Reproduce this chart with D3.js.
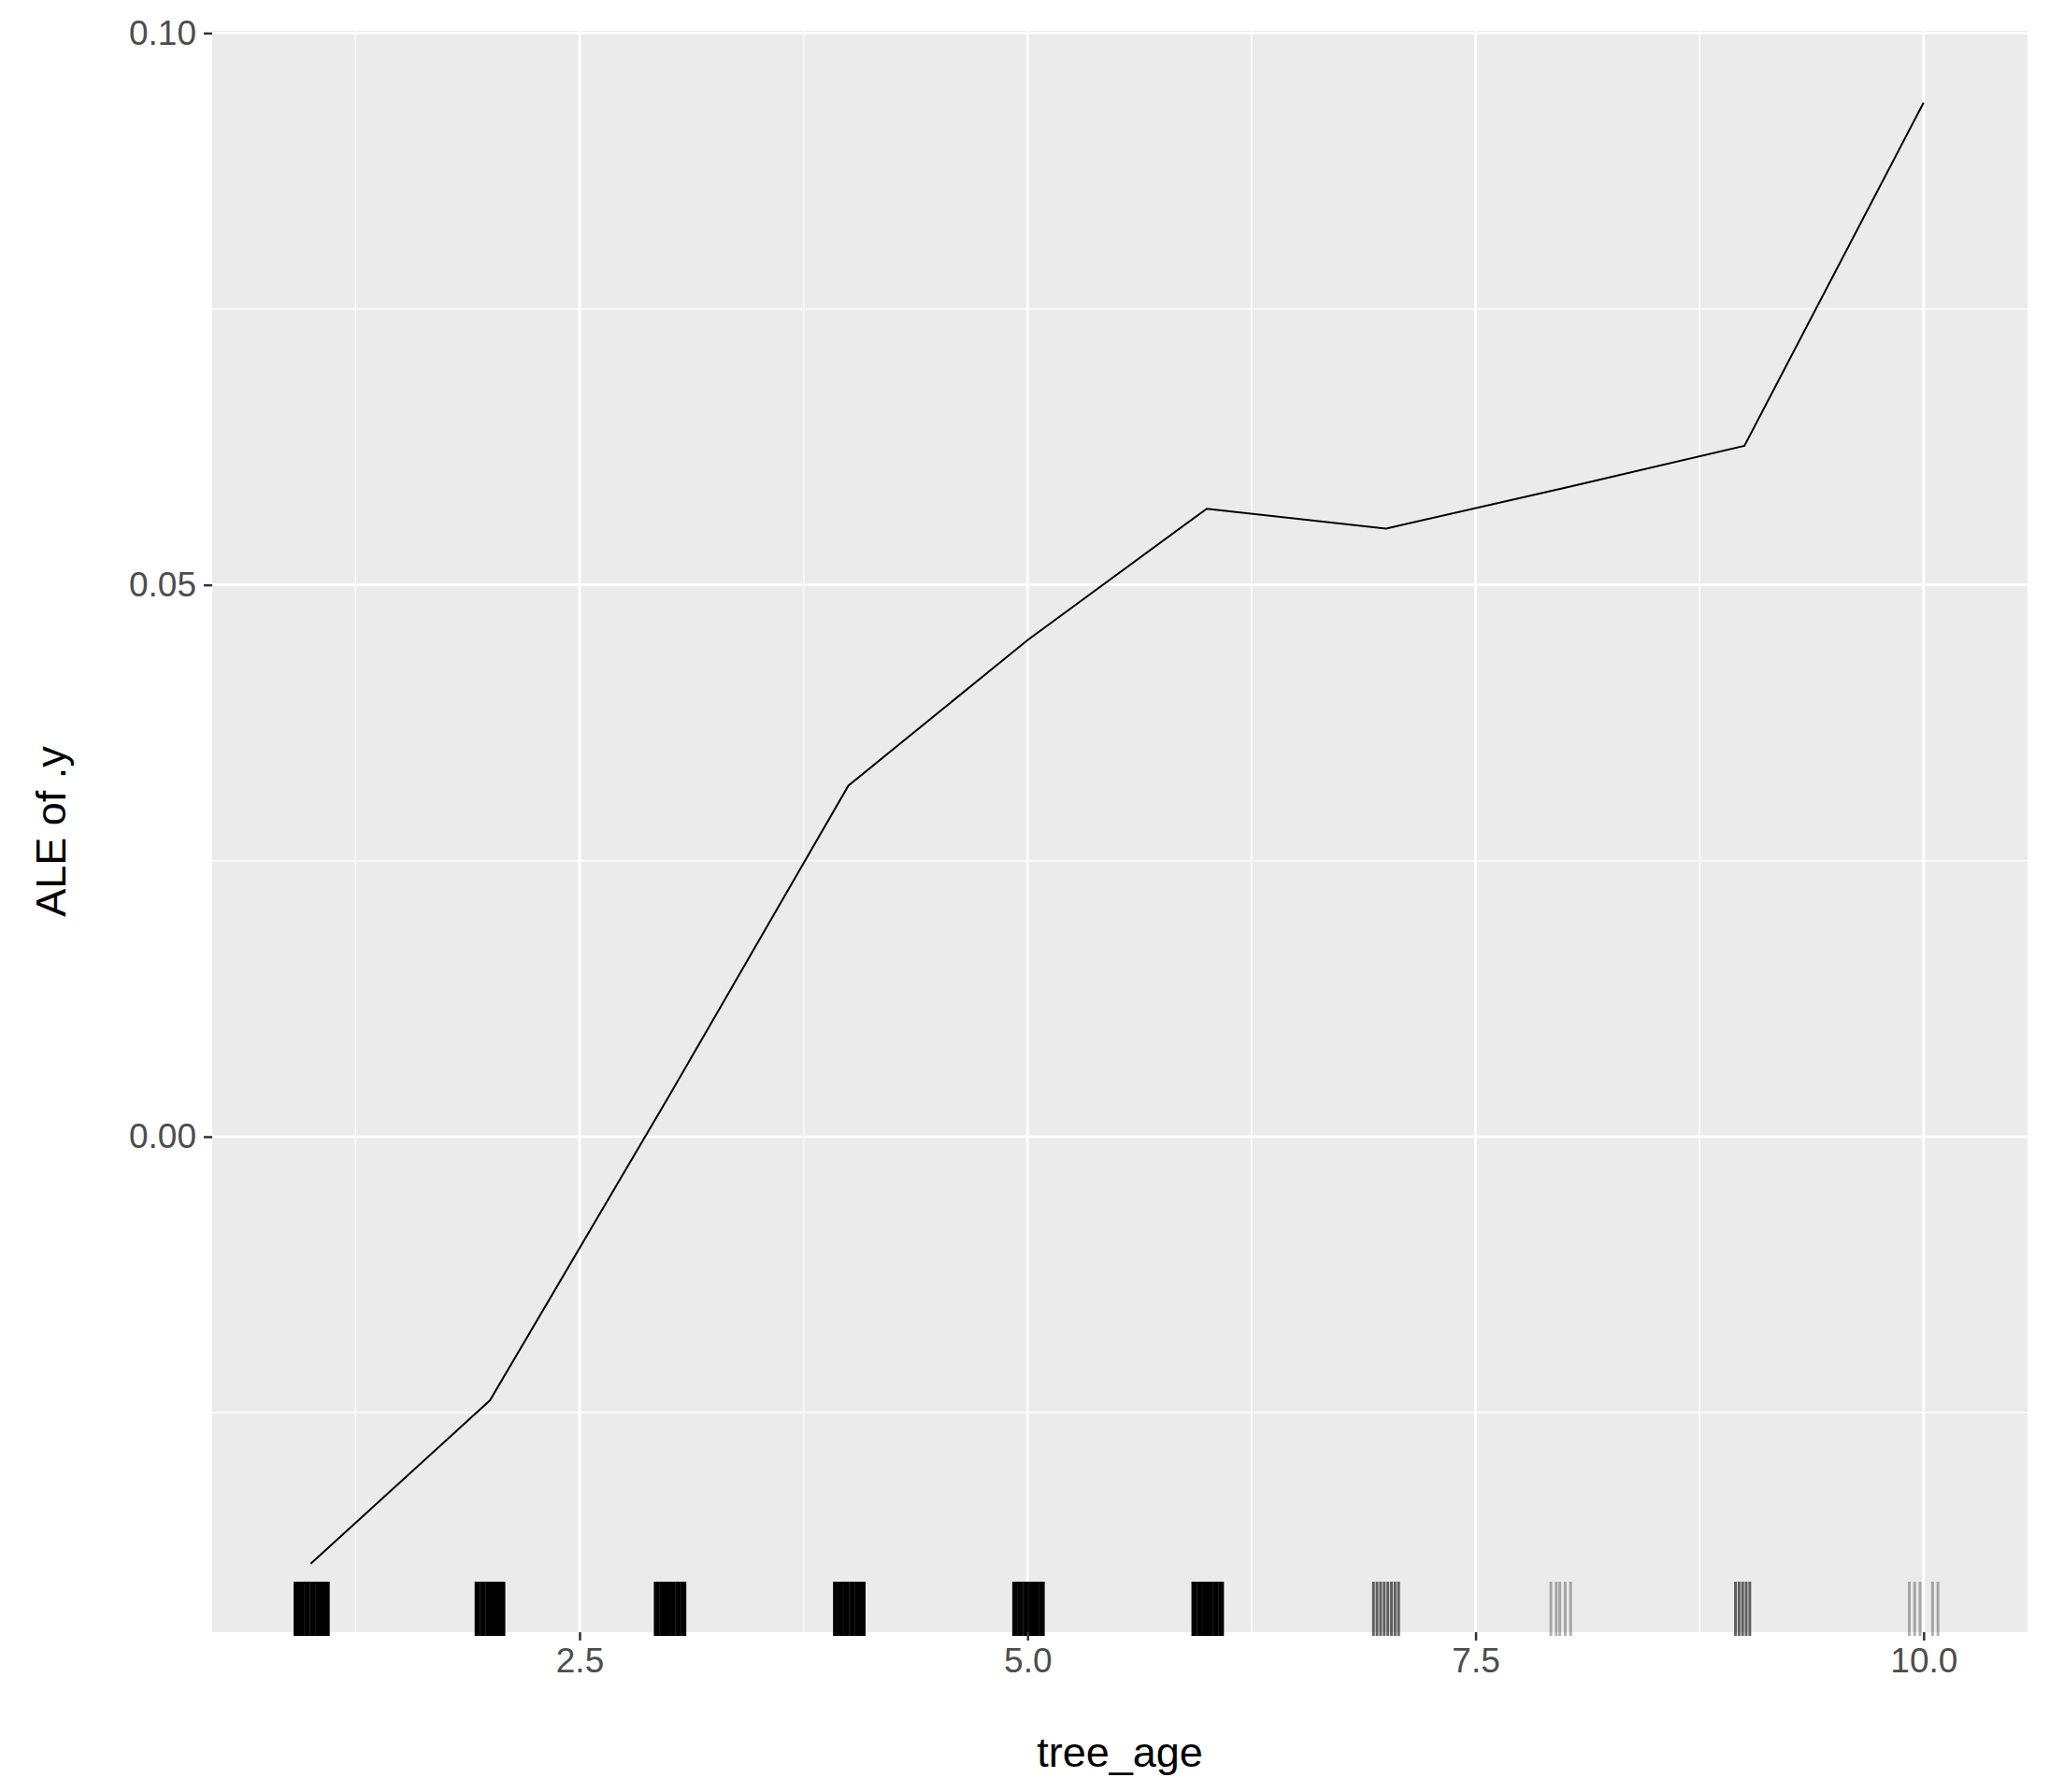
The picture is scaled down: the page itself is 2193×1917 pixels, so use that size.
<!DOCTYPE html>
<html><head><meta charset="utf-8">
<script src="https://cdn.jsdelivr.net/npm/d3@7"></script>
<style>body{margin:0;background:#fff}svg{display:block}</style>
</head><body>
<script>
const treeAge = [1,2,3,4,5,6,7,8,9,10];
const aleValues = [-0.0387,-0.0239,0.0037,0.0318,0.0450,0.0569,0.0551,0.0588,0.0626,0.0937];
const xTicks = [2.5,5.0,7.5,10.0];
const yTicks = [0.00,0.05,0.10];
const rugDense = [0.92,0.95,0.98,1.01,1.04,1.07,1.09, 1.93,1.96,1.99,2.02,2.05,2.07, 2.93,2.96,2.99,3.02,3.05,3.08, 3.93,3.96,3.99,4.02,4.05,4.08, 4.93,4.96,4.99,5.02,5.05,5.08, 5.93,5.96,5.99,6.02,6.05,6.08];
const rugMid = [6.93,6.95,6.97,6.99,7.01,7.03,7.05,7.07, 8.95,8.97,8.99,9.01,9.03];
const rugLight = [7.92,7.95,7.97,8.0,8.03, 9.92,9.95,9.98,10.05,10.08];

const W=2193,H=1917;
const L=227,R=2169,T=33,B=1746;
const svg=d3.select("body").append("svg").attr("width",W).attr("height",H);
const x=d3.scaleLinear().domain([0.45,10.58]).range([L,R]);
const y=d3.scaleLinear().domain([-0.0449,0.1002]).range([B,T]);
svg.append("rect").attr("x",L).attr("y",T).attr("width",R-L).attr("height",B-T).attr("fill","#ebebeb");
const g=svg.append("g");
[1.25,3.75,6.25,8.75].forEach(v=>g.append("line").attr("x1",x(v)).attr("x2",x(v)).attr("y1",T).attr("y2",B).attr("stroke","#fff").attr("stroke-width",1.4));
[-0.025,0.025,0.075].forEach(v=>g.append("line").attr("y1",y(v)).attr("y2",y(v)).attr("x1",L).attr("x2",R).attr("stroke","#fff").attr("stroke-width",1.4));
xTicks.forEach(v=>g.append("line").attr("x1",x(v)).attr("x2",x(v)).attr("y1",T).attr("y2",B).attr("stroke","#fff").attr("stroke-width",2.8));
yTicks.forEach(v=>g.append("line").attr("y1",y(v)).attr("y2",y(v)).attr("x1",L).attr("x2",R).attr("stroke","#fff").attr("stroke-width",2.8));

const rugTop=1692,rugBot=1750;
function rug(arr,op,w){g.selectAll(null).data(arr).enter().append("line")
 .attr("x1",d=>x(d)).attr("x2",d=>x(d)).attr("y1",rugTop).attr("y2",rugBot)
 .attr("stroke","#000").attr("stroke-opacity",op).attr("stroke-width",w);}
rug(rugDense,1,6);
rug(rugMid,0.6,3);
rug(rugLight,0.3,3);

g.append("path").datum(treeAge.map((a,i)=>[a,aleValues[i]]))
 .attr("d",d3.line().x(d=>x(d[0])).y(d=>y(d[1]))).attr("fill","none").attr("stroke","#000").attr("stroke-width",2);

const xa=svg.append("g").attr("transform",`translate(0,${B})`).call(d3.axisBottom(x).tickValues(xTicks).tickFormat(d3.format(".1f")).tickSize(9).tickPadding(8));
const ya=svg.append("g").attr("transform",`translate(${L},0)`).call(d3.axisLeft(y).tickValues(yTicks).tickFormat(d3.format(".2f")).tickSize(9).tickPadding(8));
[xa,ya].forEach(a=>{a.select(".domain").remove();a.selectAll("line").attr("stroke","#333").attr("stroke-width",2.5);
 a.selectAll("text").attr("fill","#4d4d4d").style("font-family","Liberation Sans, Arial, sans-serif").style("font-size","37px");});
svg.append("text").attr("x",(L+R)/2).attr("y",1890).attr("text-anchor","middle").style("font-family","Liberation Sans, Arial, sans-serif").style("font-size","45px").text("tree_age");
svg.append("text").attr("transform",`translate(70,${(T+B)/2}) rotate(-90)`).attr("text-anchor","middle").style("font-family","Liberation Sans, Arial, sans-serif").style("font-size","45px").text("ALE of .y");
</script>
</body></html>
